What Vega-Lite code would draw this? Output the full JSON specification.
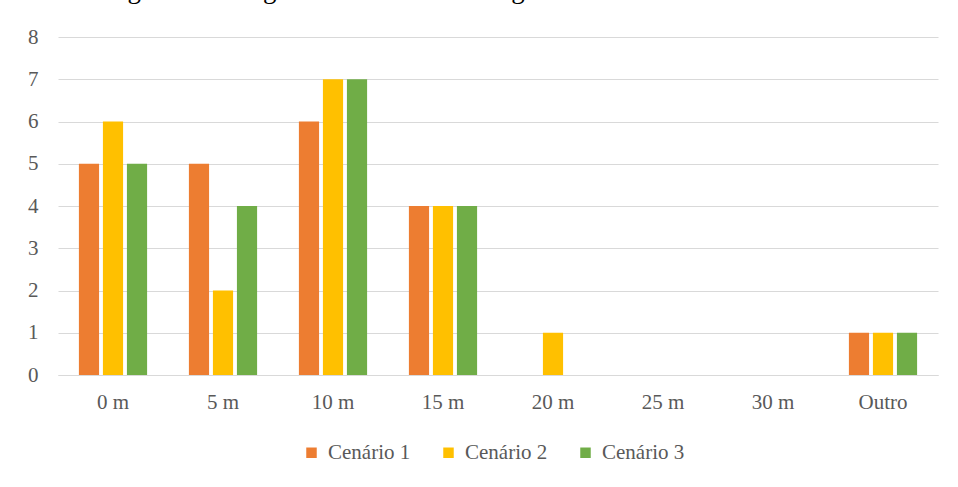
{
  "$schema": "https://vega.github.io/schema/vega-lite/v6.json",
  "width": 880,
  "height": 338,
  "autosize": {"type": "none"},
  "padding": {"left": 58, "top": 37, "right": 20, "bottom": 112},
  "background": "white",
  "title": {
    "text": "Figura 34 – Segunda rodada: Análise gráfica do valor máximo tabulado",
    "font": "Liberation Serif",
    "fontSize": 27,
    "fontWeight": "normal",
    "color": "#000000",
    "anchor": "middle",
    "baseline": "alphabetic",
    "offset": 0,
    "dy": -1,
    "dx": -7
  },
  "data": {
    "values": [
      {"cat": "0 m", "serie": "Cenário 1", "v": 5},
      {"cat": "0 m", "serie": "Cenário 2", "v": 6},
      {"cat": "0 m", "serie": "Cenário 3", "v": 5},
      {"cat": "5 m", "serie": "Cenário 1", "v": 5},
      {"cat": "5 m", "serie": "Cenário 2", "v": 2},
      {"cat": "5 m", "serie": "Cenário 3", "v": 4},
      {"cat": "10 m", "serie": "Cenário 1", "v": 6},
      {"cat": "10 m", "serie": "Cenário 2", "v": 7},
      {"cat": "10 m", "serie": "Cenário 3", "v": 7},
      {"cat": "15 m", "serie": "Cenário 1", "v": 4},
      {"cat": "15 m", "serie": "Cenário 2", "v": 4},
      {"cat": "15 m", "serie": "Cenário 3", "v": 4},
      {"cat": "20 m", "serie": "Cenário 1", "v": 0},
      {"cat": "20 m", "serie": "Cenário 2", "v": 1},
      {"cat": "20 m", "serie": "Cenário 3", "v": 0},
      {"cat": "25 m", "serie": "Cenário 1", "v": 0},
      {"cat": "25 m", "serie": "Cenário 2", "v": 0},
      {"cat": "25 m", "serie": "Cenário 3", "v": 0},
      {"cat": "30 m", "serie": "Cenário 1", "v": 0},
      {"cat": "30 m", "serie": "Cenário 2", "v": 0},
      {"cat": "30 m", "serie": "Cenário 3", "v": 0},
      {"cat": "Outro", "serie": "Cenário 1", "v": 1},
      {"cat": "Outro", "serie": "Cenário 2", "v": 1},
      {"cat": "Outro", "serie": "Cenário 3", "v": 1}
    ]
  },
  "mark": {"type": "bar"},
  "encoding": {
    "x": {
      "field": "cat",
      "type": "nominal",
      "sort": null,
      "title": null,
      "scale": {"paddingInner": 0.38, "paddingOuter": 0.19},
      "axis": {
        "labelAngle": 0,
        "ticks": false,
        "domainColor": "#d9d9d9",
        "domainWidth": 1,
        "labelFont": "Liberation Serif",
        "labelFontSize": 21,
        "labelColor": "#595959",
        "labelPadding": 16,
        "grid": false
      }
    },
    "xOffset": {
      "field": "serie",
      "type": "nominal",
      "scale": {"paddingInner": 0.16}
    },
    "y": {
      "field": "v",
      "type": "quantitative",
      "title": null,
      "scale": {"domain": [0, 8], "nice": false},
      "axis": {
        "values": [0, 1, 2, 3, 4, 5, 6, 7, 8],
        "domain": false,
        "ticks": false,
        "gridColor": "#d9d9d9",
        "gridWidth": 1,
        "labelFont": "Liberation Serif",
        "labelFontSize": 21,
        "labelColor": "#595959",
        "labelPadding": 20
      }
    },
    "color": {
      "field": "serie",
      "type": "nominal",
      "title": null,
      "scale": {
        "domain": ["Cenário 1", "Cenário 2", "Cenário 3"],
        "range": ["#ED7D31", "#FFC000", "#70AD47"]
      },
      "legend": {
        "orient": "none",
        "legendX": 243,
        "legendY": 405,
        "direction": "horizontal",
        "symbolType": "square",
        "symbolSize": 110,
        "symbolStrokeWidth": 0,
        "labelFont": "Liberation Serif",
        "labelFontSize": 21,
        "labelColor": "#595959",
        "columnPadding": 27,
        "labelOffset": 6
      }
    }
  },
  "config": {
    "view": {"stroke": null}
  }
}
